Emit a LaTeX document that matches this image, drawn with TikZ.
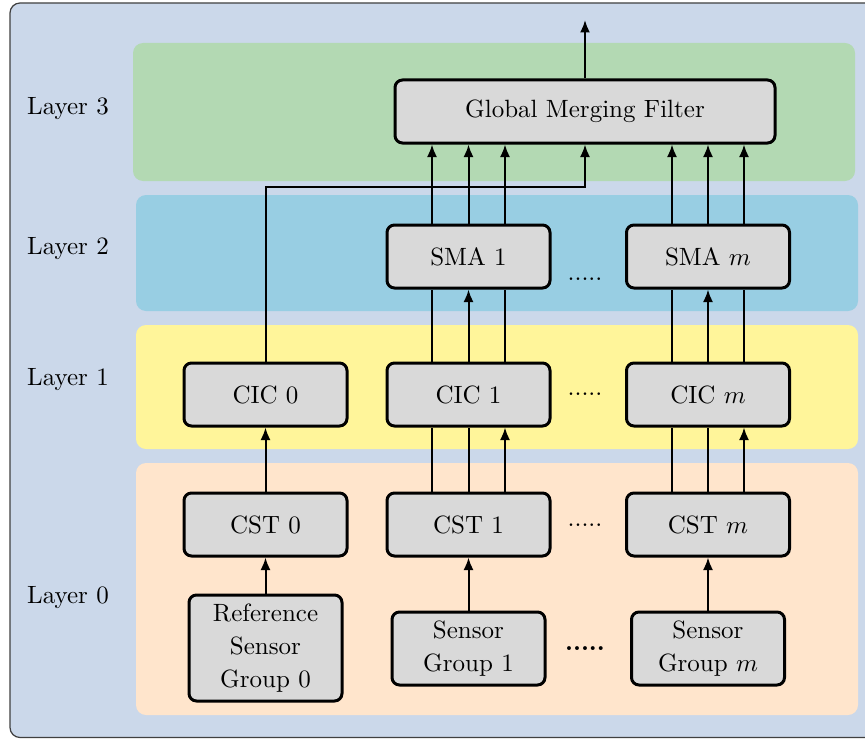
\documentclass[tikz,border=0pt]{standalone}
\usetikzlibrary{arrows.meta,calc}
\definecolor{bgc}{RGB}{203,216,234}
\definecolor{l3c}{RGB}{179,217,179}
\definecolor{l2c}{RGB}{152,206,227}
\definecolor{l1c}{RGB}{255,245,154}
\definecolor{l0c}{RGB}{255,229,204}
\definecolor{boxgray}{RGB}{217,217,217}
\begin{document}
\begin{tikzpicture}[x=0.4pt,y=-0.4pt,
  box/.style={draw, very thick, fill=boxgray, rounded corners=3pt, align=center, inner sep=2pt,
    font=\fontsize{10}{13.2}\selectfont},
  small/.style={box, minimum width=65.2pt, minimum height=25.2pt},
  sens/.style={box, minimum width=61.2pt, minimum height=29.2pt},
  band/.style={rounded corners=4pt},
  arr/.style={thick,-{Latex[length=5pt,width=4pt]}},
  ln/.style={thick},
  lbl/.style={font=\fontsize{10}{12}\selectfont}]
\useasboundingbox (0,0) rectangle (865,739);
\clip (0,0) rectangle (865,739);
\draw[fill=bgc, draw=black!75, line width=0.5pt, rounded corners=4pt] (10,3) rectangle (885,737.5);
% bands
\fill[l3c, band] (133,43) rectangle (855,181);
\fill[l2c, band] (136,195) rectangle (858,311);
\fill[l1c, band] (136,325) rectangle (858,449);
\fill[l0c, band] (136,463) rectangle (858,715);
% layer labels
\node[lbl] (lay3) at (68,109) {Layer 3};
\node[lbl] (lay2) at (68,249) {Layer 2};
\node[lbl] (lay1) at (68,380) {Layer 1};
\node[lbl] (lay0) at (68,598) {Layer 0};
% nodes
\node[box, minimum width=152pt, minimum height=25.2pt] (gmf) at (585,111.5) {Global Merging Filter};
\node[small] (sma1) at (468.5,256.5) {SMA 1};
\node[small] (smam) at (708,256.5) {SMA $m$};
\node[small] (cic0) at (265.5,394.5) {CIC 0};
\node[small] (cic1) at (468.5,394.5) {CIC 1};
\node[small] (cicm) at (708,394.5) {CIC $m$};
\node[small] (cst0) at (265.5,524.5) {CST 0};
\node[small] (cst1) at (468.5,524.5) {CST 1};
\node[small] (cstm) at (708,524.5) {CST $m$};
\node[box, minimum width=61.2pt, minimum height=42.4pt] (sg0) at (265.5,648) {Reference\\Sensor\\Group 0};
\node[sens] (sg1) at (468.5,648.5) {Sensor\\Group 1};
\node[sens] (sgm) at (708,648.5) {Sensor\\Group $m$};
% dots
\node[lbl] (d2) at (585,279) {.....};
\node[lbl] (d1) at (585,394.5) {.....};
\node[lbl] (dc) at (585,525) {.....};
\node[lbl] (d0) at (585,649) {\textbf{.....}};
% output
\coordinate (out) at (585,20);
\draw[arr] (gmf.north) -- (out);
% SMA -> GMF
\foreach \s in {-14.6pt,0pt,14.6pt}{
  \draw[arr] ([xshift=\s]sma1.north) -- ([xshift=\s]sma1.north |- gmf.south);
}
\foreach \s in {-14.4pt,0pt,14.4pt}{
  \draw[arr] ([xshift=\s]smam.north) -- ([xshift=\s]smam.north |- gmf.south);
}
% CIC -> SMA
\draw[ln] ([xshift=-14.6pt]cic1.north) -- ([xshift=-14.6pt]cic1.north |- sma1.south);
\draw[arr] (cic1.north) -- (sma1.south);
\draw[ln] ([xshift=14.6pt]cic1.north) -- ([xshift=14.6pt]cic1.north |- sma1.south);
\draw[ln] ([xshift=-14.4pt]cicm.north) -- ([xshift=-14.4pt]cicm.north |- smam.south);
\draw[arr] (cicm.north) -- (smam.south);
\draw[ln] ([xshift=14.4pt]cicm.north) -- ([xshift=14.4pt]cicm.north |- smam.south);
% CST -> CIC
\draw[ln] ([xshift=-14.6pt]cst1.north) -- ([xshift=-14.6pt]cst1.north |- cic1.south);
\draw[ln] (cst1.north) -- (cic1.south);
\draw[arr] ([xshift=14.6pt]cst1.north) -- ([xshift=14.6pt]cst1.north |- cic1.south);
\draw[ln] ([xshift=-14.4pt]cstm.north) -- ([xshift=-14.4pt]cstm.north |- cicm.south);
\draw[ln] (cstm.north) -- (cicm.south);
\draw[arr] ([xshift=14.4pt]cstm.north) -- ([xshift=14.4pt]cstm.north |- cicm.south);
% CIC0 -> GMF
\coordinate (bend) at (585,187);
\draw[arr] (cic0.north) |- (bend) -- (gmf.south);
% CST0 -> CIC0
\draw[arr] (cst0.north) -- (cic0.south);
% sensors -> CST
\draw[arr] (sg0.north) -- (cst0.south);
\draw[arr] (sg1.north) -- (cst1.south);
\draw[arr] (sgm.north) -- (cstm.south);
\end{tikzpicture}
\end{document}
